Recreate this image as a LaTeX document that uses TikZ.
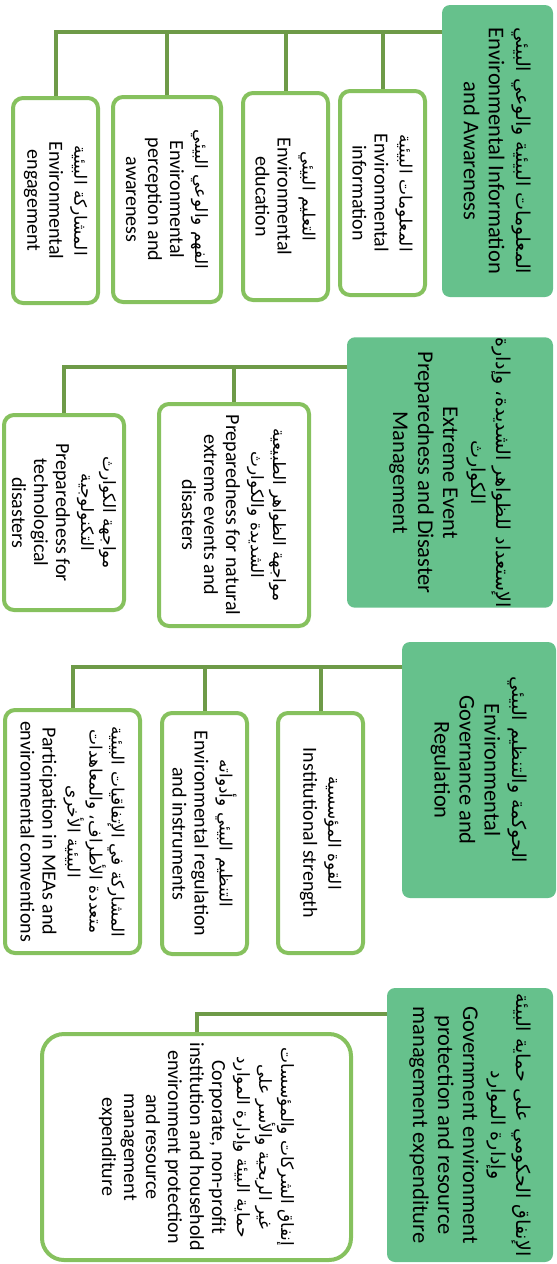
\documentclass[tikz,border=0pt]{standalone}
\usepackage{fontspec}
\setmainfont{Carlito}
\newfontfamily\arabicfont[Script=Arabic,Scale=0.85]{DejaVu Sans}
\TeXXeTstate=1
\newcommand\artext[1]{{\arabicfont\beginR #1\endR}}
\definecolor{hdrgreen}{HTML}{66C18C}
\definecolor{boxgreen}{HTML}{86C15E}
\definecolor{linegreen}{HTML}{6E9A48}
\begin{document}
\begin{tikzpicture}[x=1pt,y=-1pt,
  hdr/.style={rotate=-90, fill=hdrgreen, rounded corners=8pt, align=center,
    font=\fontsize{22.5}{25}\selectfont, inner sep=0pt, outer sep=0pt},
  sub/.style={rotate=-90, draw=boxgreen, line width=4pt, fill=white,
    rounded corners=10pt, align=center, font=\fontsize{20}{22}\selectfont, inner sep=0pt},
  conn/.style={draw=linegreen, line width=4pt}]
\useasboundingbox (0,0) rectangle (557,1264);

% ---------- Section 1 ----------
\node[hdr, minimum width=292pt, minimum height=111pt] (h1) at (497.5,151)
  {\artext{المعلومات البيئية والوعي البيئي}\\[3pt]Environmental Information\\and Awareness};
\node[sub, minimum width=204pt, minimum height=85pt] (c1) at (382.5,193)
  {\artext{المعلومات البيئية}\\[3pt]Environmental\\information};
\node[sub, minimum width=207pt, minimum height=85pt] (c2) at (285.5,196.5)
  {\artext{التعليم البيئي}\\[3pt]Environmental\\education};
\node[sub, minimum width=205pt, minimum height=108pt] (c3) at (167,199.5)
  {\artext{الفهم والوعي البيئي}\\[3pt]Environmental\\perception and\\awareness};
\node[sub, minimum width=205pt, minimum height=85pt] (c4) at (55.5,200.5)
  {\artext{المشاركة البيئية}\\[3pt]Environmental\\engagement};
\coordinate (b1) at (0,32);
\draw[conn] (h1.south |- b1) -- (c4.west |- b1) -- (c4.west);
\foreach \c in {c1,c2,c3}{\draw[conn] (\c.west |- b1) -- (\c.west);}

% ---------- Section 2 ----------
\node[hdr, minimum width=261pt, minimum height=206pt] (h2) at (450,472.5)
  {\artext{الإستعداد للظواهر الشديدة، وإدارة}\\\artext{الكوارث}\\[3pt]Extreme Event\\Preparedness and Disaster\\Management};
\node[sub, minimum width=222pt, minimum height=150pt] (c5) at (234,515)
  {\artext{مواجهة الظواهر الطبيعية}\\\artext{الشديدة والكوارث}\\[3pt]Preparedness for natural\\extreme events and\\disasters};
\node[sub, minimum width=195pt, minimum height=120pt] (c6) at (64,512.5)
  {\artext{مواجهة الكوارث}\\\artext{التكنولوجية}\\[3pt]Preparedness for\\technological\\disasters};
\coordinate (b2) at (0,367);
\draw[conn] (h2.south |- b2) -- (c6.west |- b2) -- (c6.west);
\draw[conn] (c5.west |- b2) -- (c5.west);

% ---------- Section 3 ----------
\node[hdr, minimum width=256pt, minimum height=154pt] (h3) at (479,770)
  {\artext{الحوكمة والتنظيم البيئي}\\[3pt]Environmental\\Governance and\\Regulation};
\node[sub, minimum width=240pt, minimum height=85pt] (c7) at (320.5,833)
  {\artext{القوة المؤسسية}\\[3pt]Institutional strength};
\node[sub, minimum width=241pt, minimum height=85pt] (c8) at (204.5,833.5)
  {\artext{التنظيم البيئي وأدواته}\\[3pt]Environmental regulation\\and instruments};
\node[sub, minimum width=243pt, minimum height=135pt] (c9) at (72.5,831.5)
  {\artext{المشاركة في الإتفاقيات البيئية}\\\artext{متعددة الأطراف، والمعاهدات}\\\artext{البيئية الأخرى}\\[3pt]Participation in MEAs and\\environmental conventions};
\coordinate (b3) at (0,667);
\draw[conn] (h3.south |- b3) -- (c9.west |- b3) -- (c9.west);
\foreach \c in {c7,c8}{\draw[conn] (\c.west |- b3) -- (\c.west);}

% ---------- Section 4 ----------
\node[hdr, minimum width=274pt, minimum height=166pt] (h4) at (470,1125)
  {\artext{الإنفاق الحكومي على حماية البيئة}\\\artext{وإدارة الموارد}\\[3pt]Government environment\\protection and resource\\management expenditure};
\node[sub, rounded corners=22pt, minimum width=226pt, minimum height=309pt] (c10) at (196.5,1147)
  {\artext{إنفاق الشركات والمؤسسات}\\\artext{غير الربحية والأسر على}\\\artext{حماية البيئة وإدارة الموارد}\\[3pt]Corporate, non-profit\\institution and household\\environment protection\\and resource\\management\\expenditure};
\coordinate (b4) at (0,1014);
\draw[conn] (h4.south |- b4) -- (c10.west |- b4) -- (c10.west);
\end{tikzpicture}
\end{document}
